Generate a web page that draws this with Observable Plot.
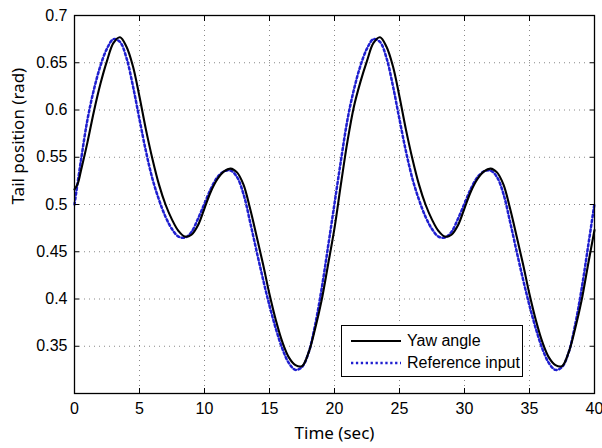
<!DOCTYPE html>
<html><head><meta charset="utf-8">
<script src="https://cdn.jsdelivr.net/npm/d3@7"></script>
<script src="https://cdn.jsdelivr.net/npm/@observablehq/plot@0.6"></script>
<style>
html,body{margin:0;padding:0;background:#fff;}
#wrap{position:relative;width:602px;height:448px;}
#legend{position:absolute;left:341px;top:325px;width:182px;height:52px;border:1px solid #000;background:#fff;box-sizing:border-box;font-family:"Liberation Sans",Arial,sans-serif;font-size:16px;color:#000;}
#legend .row{position:absolute;left:9px;height:20px;display:flex;align-items:center;}
#legend svg{margin-right:6px;}
</style></head>
<body><div id="wrap"><div id="legend"></div></div>
<script>
const xTicks = [0, 5, 10, 15, 20, 25, 30, 35, 40];
const yTicks = [0.35, 0.4, 0.45, 0.5, 0.55, 0.6, 0.65, 0.7];
const seriesNames = ["Yaw angle", "Reference input"];

// Yaw angle (black solid)
const tYaw = [0,0.25,0.5,1,1.5,2,2.5,3,3.5,4,4.5,5,5.5,6,6.5,7,7.5,8,8.5,9,9.5,10,10.5,11,11.5,12,12.5,13,13.5,14,14.5,15,15.5,16,16.5,17,17.5,18,18.5,19,19.5,
  20,20.5,21,21.5,22,22.5,23,23.5,24,24.5,25,25.5,26,26.5,27,27.5,28,28.5,29,29.5,30,30.5,31,31.5,32,32.5,33,33.5,34,34.5,35,35.5,36,36.5,37,37.5,38,38.5,39,39.5,40];
const yaw = [0.516,0.522,0.536,0.566,0.599,0.628,0.652,0.671,0.677,0.667,0.646,0.614,0.579,0.548,0.521,0.500,0.484,0.472,0.466,0.468,0.478,0.496,0.514,0.527,0.535,0.538,0.534,0.521,0.496,0.467,0.437,0.405,0.377,0.354,0.338,0.330,0.329,0.343,0.368,0.398,0.436,
  0.475,0.522,0.567,0.604,0.630,0.652,0.671,0.677,0.667,0.646,0.614,0.579,0.548,0.521,0.500,0.484,0.472,0.466,0.468,0.478,0.496,0.514,0.527,0.535,0.538,0.534,0.521,0.496,0.467,0.437,0.405,0.377,0.354,0.338,0.330,0.329,0.343,0.368,0.398,0.436,0.473];

// Reference input (blue dotted)
const tRef = tYaw.filter(t => t !== 0.25);
const ref = [0.500,0.547,0.590,0.622,0.647,0.665,0.675,0.672,0.655,0.625,0.590,0.556,0.527,0.505,0.487,0.474,0.466,0.465,0.471,0.485,0.501,0.517,0.529,0.535,0.536,0.529,0.511,0.482,0.451,0.421,0.393,0.368,0.347,0.332,0.325,0.328,0.343,0.372,0.410,0.455,
  0.501,0.547,0.590,0.622,0.647,0.665,0.675,0.672,0.655,0.625,0.590,0.556,0.527,0.505,0.487,0.474,0.466,0.465,0.471,0.485,0.501,0.517,0.529,0.535,0.536,0.529,0.511,0.482,0.451,0.421,0.393,0.368,0.347,0.332,0.325,0.328,0.343,0.372,0.410,0.455,0.501];

const yawData = tYaw.map((t, i) => ({t, v: yaw[i]}));
const refData = tRef.map((t, i) => ({t, v: ref[i]}));

const tickFont = "Liberation Sans, Arial, sans-serif";
const labelFont = "Noto Sans, sans-serif";
const gridStyle = {stroke: "#555", strokeOpacity: 0.7, strokeDasharray: "1,4", strokeWidth: 1};
const refStyle = {stroke: "#1f1fd0", strokeWidth: 2.5, strokeDasharray: "2.3,2.6"};
const yawStyle = {stroke: "#000", strokeWidth: 2.1};

const chart = Plot.plot({
  width: 602, height: 448,
  marginLeft: 74, marginRight: 8, marginTop: 15, marginBottom: 55,
  style: {fontFamily: tickFont, fontSize: "16px", background: "#fff", color: "#000"},
  x: {domain: [0, 40], label: null},
  y: {domain: [0.3, 0.7], label: null},
  marks: [
    Plot.gridX(xTicks.slice(1, -1), gridStyle),
    Plot.gridY(yTicks.slice(0, -1), gridStyle),
    Plot.line(refData, {x: "t", y: "v", ...refStyle, curve: "catmull-rom"}),
    Plot.line(yawData, {x: "t", y: "v", ...yawStyle, curve: "catmull-rom"}),
    Plot.axisX(xTicks, {anchor: "bottom", tickSize: 5, dy: -5, tickFormat: () => "", label: null, stroke: "#000"}),
    Plot.axisX(xTicks, {anchor: "top", tickSize: 5, dy: 5, tickFormat: () => "", label: null, stroke: "#000"}),
    Plot.axisY(yTicks, {anchor: "left", tickSize: 5, dx: 5, tickFormat: () => "", label: null, stroke: "#000"}),
    Plot.axisY(yTicks, {anchor: "right", tickSize: 5, dx: -5, tickFormat: () => "", label: null, stroke: "#000"}),
    Plot.axisX(xTicks, {anchor: "bottom", tickSize: 0, tickPadding: 9, tickFormat: d => String(d), label: null, fontSize: 16}),
    Plot.axisY(yTicks, {anchor: "left", tickSize: 0, tickPadding: 7, tickFormat: d => String(d), label: null, fontSize: 16}),
    Plot.frame({stroke: "#000", strokeWidth: 1.3}),
    Plot.text(["Time (sec)"], {frameAnchor: "bottom", dy: 40, text: d => d, fontFamily: labelFont, fontSize: 17, lineAnchor: "middle"}),
    Plot.text(["Tail position (rad)"], {frameAnchor: "left", dx: -56, rotate: -90, text: d => d, fontFamily: labelFont, fontSize: 17, lineAnchor: "middle"})
  ]
});
document.getElementById("wrap").prepend(chart);

const legend = document.getElementById("legend");
const styles = [
  {...yawStyle, top: 5},
  {...refStyle, top: 27}
];
seriesNames.forEach((name, i) => {
  const s = styles[i];
  const row = document.createElement("div");
  row.className = "row";
  row.style.top = s.top + "px";
  row.innerHTML = `<svg width="50" height="10"><line x1="0" x2="50" y1="5" y2="5" stroke="${s.stroke}" stroke-width="${s.strokeWidth}" ${s.strokeDasharray ? `stroke-dasharray="${s.strokeDasharray}"` : ""}/></svg><span>${name}</span>`;
  legend.appendChild(row);
});
</script></body></html>
